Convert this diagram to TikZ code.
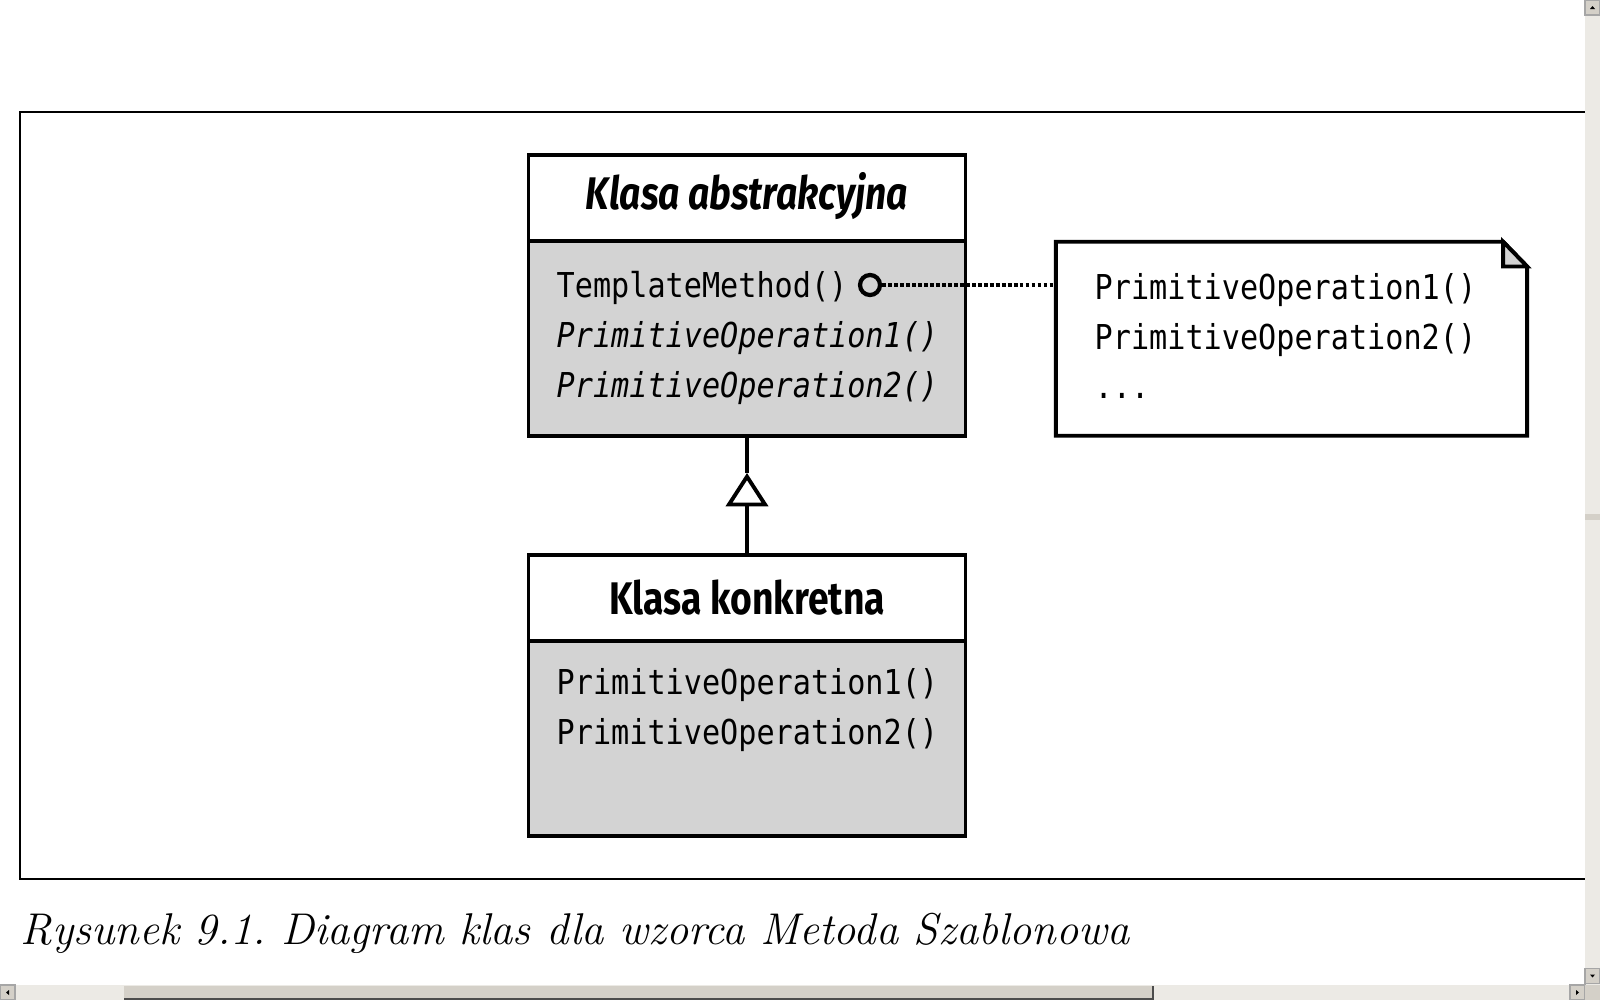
\documentclass[tikz,border=0pt]{standalone}
\usepackage{fontspec}
\usepackage{tikz}
\usetikzlibrary{arrows.meta}
\newfontfamily\umlmono[FakeStretch=0.88]{DejaVu Sans Mono}
\newfontfamily\umlhead[FakeStretch=0.815]{Fira Sans}
\definecolor{umlgray}{HTML}{D3D3D3}
\definecolor{barface}{HTML}{D4D0C8}
\definecolor{bartrack}{HTML}{ECEAE5}

\begin{document}
\begin{tikzpicture}[x=0.01cm, y=-0.01cm,
        head box/.style={draw, line width=1.1pt, fill=white, minimum width=4.367cm, minimum height=0.857cm, inner sep=0pt},
        body box/.style={draw, line width=1.1pt, fill=umlgray, minimum width=4.367cm, minimum height=1.949cm, inner sep=0pt},
        note area/.style={minimum width=4.71cm, minimum height=1.939cm, inner sep=0pt, outer sep=0pt},
        title text/.style={anchor=base, inner sep=0pt, font=\umlhead\bfseries\fontsize{13pt}{15pt}\selectfont},
        op text/.style={anchor=base west, inner sep=0pt, font=\umlmono\fontsize{9.75pt}{14pt}\selectfont},
        bar button/.style={fill=barface, draw=gray!70, line width=0.3pt, inner sep=0pt, minimum size=0.15cm},
    ]

    \useasboundingbox (0,0) rectangle (1600,1000);

    \node[head box] (abshead) at (747, 198) {};
    \node[body box] (absbody) at (747, 338.3) {};
    \node[head box] (conhead) at (747, 598) {};
    \node[body box] (conbody) at (747, 738.3) {};
    \node[note area] (note) at (1291.5, 338.75) {};

    \node[title text] (abstitle) at (747, 209) {\itshape Klasa abstrakcyjna};
    \node[op text] (tmop) at (556, 297) {TemplateMethod()};
    \node[op text] (absop1) at (556, 347) {\itshape PrimitiveOperation1()};
    \node[op text] (absop2) at (556, 397) {\itshape PrimitiveOperation2()};
    \node[title text] (contitle) at (747, 614) {Klasa konkretna};
    \node[op text] (conop1) at (556, 694) {PrimitiveOperation1()};
    \node[op text] (conop2) at (556, 744) {PrimitiveOperation2()};

    \draw[line width=1.1pt, fill=white] (note.north west) -- ([xshift=-0.24cm]note.north east)
        -- ([yshift=-0.247cm]note.north east) -- (note.south east) -- (note.south west) -- cycle;
    \draw[line width=1.1pt, fill=umlgray] ([xshift=-0.24cm]note.north east)
        -- ([xshift=-0.24cm, yshift=-0.247cm]note.north east) -- ([yshift=-0.247cm]note.north east) -- cycle;
    \node[op text] (noteop1) at (1094, 299) {PrimitiveOperation1()};
    \node[op text] (noteop2) at (1094, 349) {PrimitiveOperation2()};
    \node[op text] (notedots) at (1094, 398) {...};

    \node[circle, draw, line width=1.2pt, minimum size=0.2cm, inner sep=0pt] (tmhook) at (870, 285) {};
    \draw[line width=1.1pt, dash pattern=on 1.1pt off 0.6pt] (tmhook) -- (tmhook -| note.west);

    \coordinate (gentip) at (747, 473);
    \draw[line width=1.1pt, -{Triangle[open, length=9.5pt, width=12pt]}] (conhead.north) -- (gentip);
    \draw[line width=1.1pt] (gentip) -- (absbody.south);

    \draw[line width=0.6pt] (1600, 112) -- (20.4, 112) -- (20.4, 878.6) -- (1600, 878.6);
    \node[anchor=base west, inner sep=0pt, font=\itshape\fontsize{12.65pt}{15pt}\selectfont] (caption) at (20, 944)
        {\frenchspacing Rysunek 9.1. Diagram klas dla wzorca Metoda Szablonowa};

    \fill[bartrack] (1585, 0) rectangle (1600, 985);
    \fill[bartrack] (0, 985) rectangle (1585, 1000);
    \fill[barface] (124, 986) rectangle (1153, 999);
    \draw[gray!60!black, line width=0.4pt] (124, 999) -- (1153, 999) -- (1153, 986);
    \fill[barface] (1585, 514) rectangle (1600, 520);
    \node[bar button] (upbtn) at (1592.5, 7.5) {};
    \node[bar button] (downbtn) at (1592.5, 976) {};
    \node[bar button] (leftbtn) at (7.5, 992.5) {};
    \node[bar button] (rightbtn) at (1577.5, 992.5) {};
    \node[bar button, draw=none] (cornerbtn) at (1592.5, 992.5) {};
    \fill ([shift={(-2.5,1.5)}]upbtn.center) -- ([shift={(2.5,1.5)}]upbtn.center) -- ([shift={(0,-1.5)}]upbtn.center) -- cycle;
    \fill ([shift={(-2.5,-1.5)}]downbtn.center) -- ([shift={(2.5,-1.5)}]downbtn.center) -- ([shift={(0,1.5)}]downbtn.center) -- cycle;
    \fill ([shift={(1.5,-2.5)}]leftbtn.center) -- ([shift={(1.5,2.5)}]leftbtn.center) -- ([shift={(-1.5,0)}]leftbtn.center) -- cycle;
    \fill ([shift={(-1.5,-2.5)}]rightbtn.center) -- ([shift={(-1.5,2.5)}]rightbtn.center) -- ([shift={(1.5,0)}]rightbtn.center) -- cycle;
\end{tikzpicture}
\end{document}
